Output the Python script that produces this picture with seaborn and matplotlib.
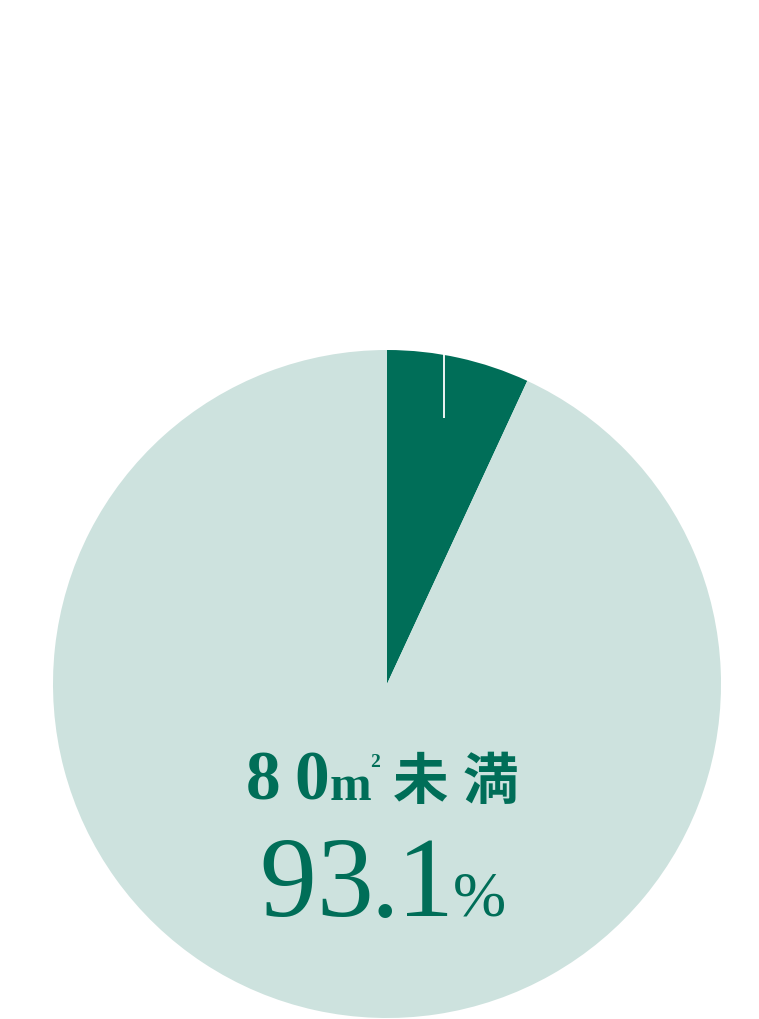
import matplotlib
matplotlib.use("Agg")
import matplotlib.pyplot as plt
import seaborn as sns

# ---- data ----
categories = ["80㎡以上", "80㎡未満"]
shares = [6.9, 93.1]
label_chars = ["8", "0", "m", "未", "満"]
value_chars = ["9", "3", ".", "1"]

dark = "#006E58"
light = "#CDE2DE"

sns.set_theme(style="white")
plt.rcParams["font.family"] = ["Liberation Serif", "Noto Sans CJK JP", "DejaVu Sans"]

W, H = 759, 1020
fig = plt.figure(figsize=(W / 100, H / 100), dpi=100)
ax = fig.add_axes([0, 0, 1, 1])

def Y(p):
    return H - p

ax.pie(shares, colors=[dark, light], startangle=90, counterclock=False,
       center=(387, Y(685)), radius=334,
       wedgeprops=dict(linewidth=0, antialiased=True))
ax.set_xlim(0, W)
ax.set_ylim(0, H)
ax.set_aspect("equal")
ax.axis("off")

# leader tick inside the small slice
ax.plot([444, 444], [Y(355), Y(419)], color="white", lw=1.3, solid_capstyle="butt")

serif = ["Liberation Serif", "DejaVu Serif"]
cjk = ["Noto Sans CJK JP", "DejaVu Sans"]

# label line: 80㎡未満
label_x = [263, 312, 350, 421, 490]
label_fs = [50, 50, 36, 40, 40]
label_fam = [serif, serif, serif, cjk, cjk]
label_base = [800, 800, 800, 799, 799]
for ch, x, fs, fam, b in zip(label_chars, label_x, label_fs, label_fam, label_base):
    ax.text(x, Y(b), ch, family=fam, fontsize=fs, fontweight="bold",
            color=dark, ha="center", va="baseline")
ax.text(375, Y(767), "2", family=serif, fontsize=14, fontweight="bold",
        color=dark, ha="center", va="baseline")

# value line: 93.1%
value_x = [288, 345, 385, 425]
for ch, x in zip(value_chars, value_x):
    ax.text(x, Y(916), ch, family=serif, fontsize=82, color=dark,
            ha="center", va="baseline")
ax.text(479, Y(916), "%", family=serif, fontsize=46, color=dark,
        ha="center", va="baseline")

fig.savefig("out.png", dpi=100, facecolor="white")
